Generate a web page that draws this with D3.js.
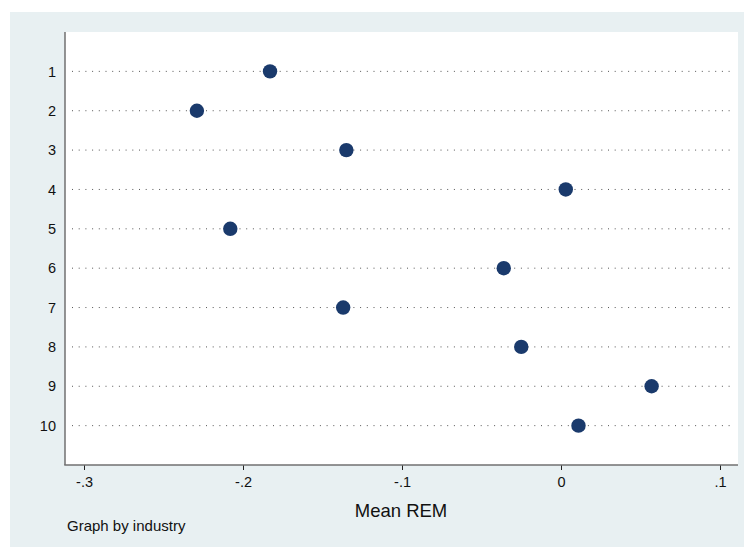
<!DOCTYPE html>
<html>
<head>
<meta charset="utf-8">
<script src="https://cdn.jsdelivr.net/npm/d3@7"></script>
<style>
  body { margin: 0; background: #fff; }
  text { font-family: Arial, "Liberation Sans", sans-serif; fill: #111; }
</style>
</head>
<body>
<div id="chart"></div>
<script>
// industries on the y axis, mean REM on the x axis
var industries = [1, 2, 3, 4, 5, 6, 7, 8, 9, 10];
var meanREM = [-0.183, -0.229, -0.135, 0.003, -0.208, -0.036, -0.137, -0.025, 0.057, 0.011];
var xTicks = [-0.3, -0.2, -0.1, 0, 0.1];
var xTickLabels = ["-.3", "-.2", "-.1", "0", ".1"];

var width = 744, height = 547;

var svg = d3.select("#chart").append("svg")
    .attr("width", width)
    .attr("height", height);

// stata-ish outer background
svg.append("rect")
    .attr("x", 10).attr("y", 12)
    .attr("width", width - 10).attr("height", height - 12)
    .attr("fill", "#e8f0f2");

var plot = { left: 65, right: 738, top: 32, bottom: 465 };

svg.append("rect")
    .attr("x", plot.left).attr("y", plot.top)
    .attr("width", plot.right - plot.left).attr("height", plot.bottom - plot.top)
    .attr("fill", "#fff");

var x = d3.scaleLinear()
    .domain([-0.3, 0.1])
    .range([84, 720]);

var y = d3.scaleLinear()
    .domain([0, 11])
    .range([plot.top, plot.bottom]);

// dotted guide lines
svg.selectAll(".guide")
    .data(industries)
    .enter().append("line")
    .attr("class", "guide")
    .attr("x1", plot.left + 7)
    .attr("x2", plot.right - 4)
    .attr("y1", function (d) { return y(d); })
    .attr("y2", function (d) { return y(d); })
    .attr("stroke", "#555")
    .attr("stroke-width", 1)
    .attr("stroke-dasharray", "1,5.7");

// y labels
svg.selectAll(".ylab")
    .data(industries)
    .enter().append("text")
    .attr("class", "ylab")
    .attr("x", 56)
    .attr("y", function (d) { return y(d); })
    .attr("dy", "0.36em")
    .attr("text-anchor", "end")
    .style("font-size", "14.5px")
    .text(function (d) { return d; });

// axes lines
svg.append("line")
    .attr("x1", plot.left).attr("x2", plot.left)
    .attr("y1", plot.top).attr("y2", plot.bottom)
    .attr("stroke", "#707070").attr("stroke-width", 1.5);

var xAxis = d3.axisBottom(x)
    .tickValues(xTicks)
    .tickSize(5)
    .tickFormat(function (d, i) { return xTickLabels[i]; });

var gx = svg.append("g")
    .attr("transform", "translate(0," + plot.bottom + ")")
    .call(xAxis);

gx.select(".domain").remove();
gx.selectAll(".tick line").attr("stroke", "#222");
gx.selectAll(".tick text")
    .attr("y", 12)
    .style("font-size", "14.5px")
    .style("font-family", "Arial, 'Liberation Sans', sans-serif")
    .attr("fill", "#111");

svg.append("line")
    .attr("x1", plot.left - 0.75).attr("x2", plot.right)
    .attr("y1", plot.bottom).attr("y2", plot.bottom)
    .attr("stroke", "#707070").attr("stroke-width", 1.5);

// points
svg.selectAll(".dot")
    .data(industries)
    .enter().append("circle")
    .attr("class", "dot")
    .attr("cx", function (d, i) { return x(meanREM[i]); })
    .attr("cy", function (d) { return y(d); })
    .attr("r", 7.2)
    .attr("fill", "#1a3a6c");

// titles
svg.append("text")
    .attr("x", 401)
    .attr("y", 517)
    .attr("text-anchor", "middle")
    .style("font-size", "18.5px")
    .text("Mean REM");

svg.append("text")
    .attr("x", 67)
    .attr("y", 531)
    .style("font-size", "15px")
    .text("Graph by industry");
</script>
</body>
</html>
